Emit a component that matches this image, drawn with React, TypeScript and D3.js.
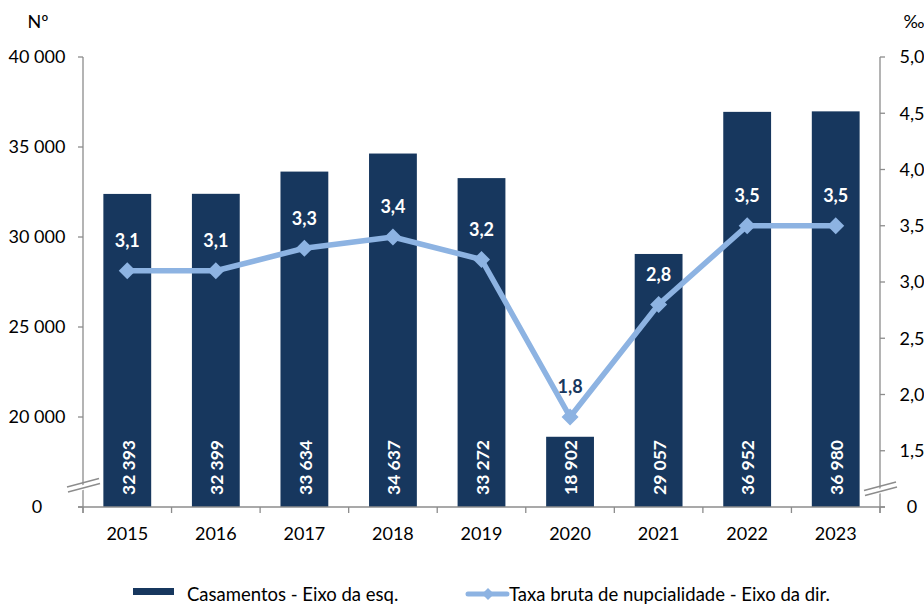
import React from "react";
import * as d3 from "d3";

const years = ["2015", "2016", "2017", "2018", "2019", "2020", "2021", "2022", "2023"];
const casamentos = [32393, 32399, 33634, 34637, 33272, 18902, 29057, 36952, 36980];
const taxa = [3.1, 3.1, 3.3, 3.4, 3.2, 1.8, 2.8, 3.5, 3.5];
const leftTicks = [15000, 20000, 25000, 30000, 35000, 40000];
const rightTicks = [1, 1.5, 2, 2.5, 3, 3.5, 4, 4.5, 5];
const legendLabels = ["Casamentos - Eixo da esq.", "Taxa bruta de nupcialidade - Eixo da dir."];

const W = 924, H = 606;
const M = { left: 83, right: 880, top: 57, bottom: 507 };
const BAR = "#17375E";
const LINE = "#8DB3E2";
const AXIS = "#8c8c8c";
const FONT = "Lato, 'Open Sans', sans-serif";

const loc = d3.formatLocale({ decimal: ",", thousands: " ", grouping: [3], currency: ["", ""] });
const fmtInt = loc.format(",");
const fmt1 = loc.format(",.1f");

export default function App() {
  const x = d3.scaleBand<string>().domain(years).range([M.left, M.right]).paddingInner(0.46).paddingOuter(0.23);
  const yL = d3.scaleLinear().domain([15000, 40000]).range([M.bottom, M.top]);
  const yR = d3.scaleLinear().domain([1, 5]).range([M.bottom, M.top]);
  const step = x.step();
  const bw = x.bandwidth();
  const cx = (y: string) => (x(y) as number) + bw / 2;

  const line = d3.line<number>().x((_, i) => cx(years[i])).y((d) => yR(d));
  const diamond = (px: number, py: number, r: number) =>
    `M${px},${py - r}L${px + r},${py}L${px},${py + r}L${px - r},${py}Z`;

  return (
    <div style={{ position: "absolute", left: 0, top: 0 }}>
      <svg width={W} height={H} style={{ display: "block", fontFamily: FONT }}>
        <rect width={W} height={H} fill="#fff" />
        {/* bars */}
        {casamentos.map((v, i) => (
          <rect key={years[i]} x={x(years[i])} y={yL(v)} width={bw} height={M.bottom - yL(v)} fill={BAR} />
        ))}
        {/* bar labels */}
        {casamentos.map((v, i) => (
          <text
            key={"bl" + i}
            transform={`translate(${cx(years[i]) + 1},${M.bottom - 12}) rotate(-90)`}
            dy="0.36em"
            fill="#fff"
            fontWeight={700}
            fontSize={17.5}
          >
            {fmtInt(v)}
          </text>
        ))}
        {/* axes */}
        <line x1={M.left} x2={M.left} y1={M.top} y2={M.bottom + 6} stroke={AXIS} strokeWidth={1.3} />
        <line x1={M.right} x2={M.right} y1={M.top} y2={M.bottom + 6} stroke={AXIS} strokeWidth={1.3} />
        <line x1={M.left - 5} x2={M.right + 5} y1={M.bottom} y2={M.bottom} stroke={AXIS} strokeWidth={1.3} />
        {leftTicks.map((t) => (
          <g key={"lt" + t}>
            <line x1={M.left - 5} x2={M.left} y1={yL(t)} y2={yL(t)} stroke={AXIS} strokeWidth={1.3} />
            <text x={37} y={yL(t)} dy="0.36em" textAnchor="middle" fontSize={18} fill="#000">
              {t === 15000 ? "0" : fmtInt(t)}
            </text>
          </g>
        ))}
        {rightTicks.map((t) => (
          <g key={"rt" + t}>
            <line x1={M.right} x2={M.right + 5} y1={yR(t)} y2={yR(t)} stroke={AXIS} strokeWidth={1.3} />
            <text x={912} y={yR(t)} dy="0.36em" textAnchor="middle" fontSize={18} fill="#000">
              {t === 1 ? "0" : fmt1(t)}
            </text>
          </g>
        ))}
        {d3.range(years.length + 1).map((i) => (
          <line key={"xt" + i} x1={M.left + i * step} x2={M.left + i * step} y1={M.bottom} y2={M.bottom + 6} stroke={AXIS} strokeWidth={1.3} />
        ))}
        {years.map((yr) => (
          <text key={"yl" + yr} x={cx(yr)} y={534} dy="0.36em" textAnchor="middle" fontSize={18} fill="#000">
            {yr}
          </text>
        ))}
        {/* break marks */}
        {[M.left, M.right].map((ax, k) => {
          const by = k === 0 ? 485 : 488.5;
          return (
            <g key={"br" + k}>
              <polygon
                points={`${ax - 16},${by + 4.5} ${ax + 16},${by - 4.5} ${ax + 16},${by + 0.5} ${ax - 16},${by + 9.5}`}
                fill="#fff"
              />
              <line x1={ax - 16} x2={ax + 16} y1={by + 2} y2={by - 6.5} stroke={AXIS} strokeWidth={1.3} />
              <line x1={ax - 15} x2={ax + 17} y1={by + 7} y2={by - 1.5} stroke={AXIS} strokeWidth={1.3} />
            </g>
          );
        })}
        {/* line series */}
        <path d={line(taxa) || ""} fill="none" stroke={LINE} strokeWidth={5.5} strokeLinejoin="round" />
        {taxa.map((v, i) => (
          <path key={"mk" + i} d={diamond(cx(years[i]), yR(v), 8.5)} fill={LINE} />
        ))}
        {taxa.map((v, i) => {
          const ly = yR(v) - 30;
          const onBar = ly - 8 > yL(casamentos[i]);
          return (
            <text
              key={"tl" + i}
              x={cx(years[i])}
              y={ly}
              dy="0.36em"
              textAnchor="middle"
              fontWeight={700}
              fontSize={18}
              fill={onBar ? "#fff" : BAR}
            >
              {fmt1(v)}
            </text>
          );
        })}
        {/* unit labels */}
        <text x={38} y={22} dy="0.36em" textAnchor="middle" fontSize={18} fill="#000">Nº</text>
        <text x={914} y={22} dy="0.36em" textAnchor="middle" fontSize={18} fill="#000">‰</text>
        {/* legend */}
        <rect x={133} y={588} width={41} height={7} fill={BAR} />
        <text x={187} y={594} dy="0.36em" fontSize={18.5} fill="#000">{legendLabels[0]}</text>
        <line x1={468} x2={507} y1={594} y2={594} stroke={LINE} strokeWidth={5} strokeLinecap="round" />
        <path d={diamond(488, 594, 6)} fill={LINE} />
        <text x={509} y={594} dy="0.36em" fontSize={18.5} fill="#000">{legendLabels[1]}</text>
      </svg>
    </div>
  );
}
